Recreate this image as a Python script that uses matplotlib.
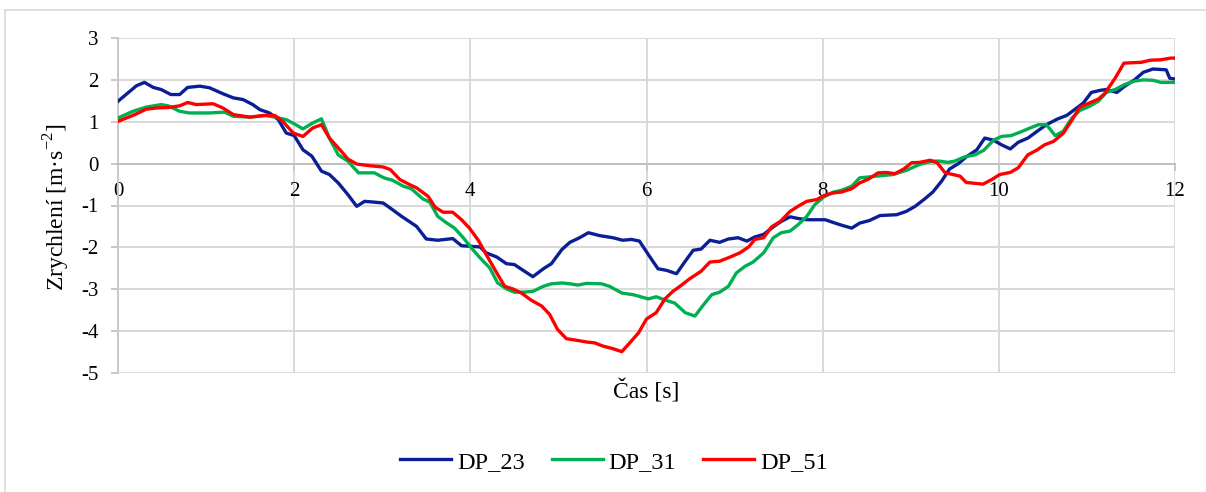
import matplotlib
matplotlib.use("Agg")
import matplotlib.pyplot as plt
from matplotlib.lines import Line2D

plt.rcParams['font.family'] = ['Liberation Serif', 'DejaVu Serif']
plt.rcParams['mathtext.fontset'] = 'custom'
plt.rcParams['mathtext.rm'] = 'Liberation Serif'
plt.rcParams['axes.unicode_minus'] = False

# data
t_23 = [0.00, 0.21, 0.30, 0.40, 0.49, 0.60, 0.70, 0.79, 0.93, 1.04, 1.19, 1.31, 1.42, 1.53, 1.61, 1.72,
        1.82, 1.91, 2.00, 2.10, 2.20, 2.31, 2.40, 2.50, 2.61, 2.71, 2.80, 2.91, 3.01, 3.09, 3.22, 3.39,
        3.50, 3.63, 3.80, 3.90, 4.11, 4.18, 4.30, 4.41, 4.50, 4.60, 4.71, 4.83, 4.92, 5.04, 5.13, 5.24,
        5.34, 5.47, 5.62, 5.73, 5.83, 5.92, 6.02, 6.13, 6.23, 6.34, 6.44, 6.53, 6.62, 6.72, 6.83, 6.93,
        7.04, 7.14, 7.23, 7.33, 7.44, 7.53, 7.63, 7.72, 7.82, 8.03, 8.14, 8.23, 8.33, 8.42, 8.53, 8.65,
        8.84, 8.95, 9.05, 9.16, 9.25, 9.35, 9.44, 9.54, 9.63, 9.75, 9.84, 9.94, 10.03, 10.13, 10.22, 10.33,
        10.46, 10.54, 10.67, 10.77, 10.86, 10.96, 11.05, 11.15, 11.22, 11.34, 11.43, 11.54, 11.64, 11.75,
        11.90, 11.94, 12.00]
a_23 = [1.49, 1.86, 1.94, 1.82, 1.77, 1.65, 1.65, 1.82, 1.85, 1.81, 1.67, 1.57, 1.53, 1.41, 1.29, 1.21,
        1.05, 0.73, 0.67, 0.33, 0.18, -0.18, -0.26, -0.46, -0.74, -1.02, -0.90, -0.92, -0.94, -1.06, -1.26, -1.50,
        -1.80, -1.83, -1.79, -1.96, -1.99, -2.13, -2.23, -2.39, -2.41, -2.55, -2.70, -2.51, -2.39, -2.05, -1.88, -1.77,
        -1.65, -1.72, -1.77, -1.83, -1.81, -1.85, -2.17, -2.51, -2.55, -2.63, -2.33, -2.07, -2.04, -1.83, -1.88, -1.80,
        -1.77, -1.85, -1.75, -1.69, -1.51, -1.38, -1.27, -1.31, -1.34, -1.34, -1.42, -1.48, -1.54, -1.42, -1.36, -1.24,
        -1.22, -1.14, -1.02, -0.84, -0.68, -0.42, -0.13, 0.00, 0.16, 0.33, 0.61, 0.56, 0.45, 0.35, 0.51, 0.61,
        0.81, 0.93, 1.07, 1.15, 1.29, 1.45, 1.70, 1.75, 1.77, 1.70, 1.85, 2.00, 2.18, 2.26,
        2.24, 2.04, 2.02]

t_31 = [0.00, 0.17, 0.32, 0.49, 0.57, 0.70, 0.81, 1.04, 1.21, 1.31, 1.50, 1.68, 1.78, 1.91, 2.00, 2.10,
        2.21, 2.31, 2.40, 2.50, 2.61, 2.73, 2.91, 3.02, 3.12, 3.24, 3.33, 3.46, 3.54, 3.63, 3.72, 3.82,
        3.92, 4.01, 4.11, 4.22, 4.31, 4.41, 4.50, 4.61, 4.71, 4.83, 4.92, 5.04, 5.13, 5.22, 5.32, 5.49,
        5.58, 5.72, 5.85, 6.02, 6.11, 6.23, 6.32, 6.44, 6.55, 6.64, 6.74, 6.83, 6.93, 7.02, 7.12, 7.21,
        7.33, 7.44, 7.53, 7.63, 7.72, 7.82, 7.91, 8.01, 8.12, 8.21, 8.33, 8.42, 8.61, 8.80, 8.95, 9.10,
        9.24, 9.33, 9.42, 9.50, 9.61, 9.73, 9.83, 9.94, 10.03, 10.14, 10.24, 10.33, 10.45, 10.54, 10.64, 10.73,
        10.83, 10.92, 11.03, 11.13, 11.22, 11.32, 11.43, 11.54, 11.64, 11.75, 11.84, 12.00]
a_31 = [1.09, 1.25, 1.35, 1.41, 1.38, 1.25, 1.21, 1.21, 1.23, 1.13, 1.11, 1.15, 1.11, 1.05, 0.95, 0.83,
        0.97, 1.07, 0.61, 0.21, 0.06, -0.22, -0.22, -0.34, -0.40, -0.54, -0.60, -0.84, -0.92, -1.26, -1.40, -1.54,
        -1.77, -2.01, -2.25, -2.49, -2.85, -2.99, -3.07, -3.07, -3.05, -2.93, -2.87, -2.85, -2.87, -2.90, -2.86, -2.87,
        -2.93, -3.09, -3.13, -3.23, -3.18, -3.27, -3.33, -3.56, -3.64, -3.39, -3.13, -3.07, -2.93, -2.61, -2.45, -2.35,
        -2.13, -1.77, -1.65, -1.61, -1.46, -1.26, -0.98, -0.80, -0.68, -0.64, -0.54, -0.34, -0.30, -0.26, -0.16, -0.02,
        0.06, 0.06, 0.03, 0.06, 0.16, 0.21, 0.32, 0.56, 0.65, 0.67, 0.75, 0.83, 0.93, 0.93, 0.67, 0.77,
        1.09, 1.27, 1.37, 1.49, 1.70, 1.77, 1.89, 1.97, 2.00, 1.99, 1.94, 1.94]

t_51 = [0.00, 0.19, 0.32, 0.44, 0.57, 0.70, 0.79, 0.89, 1.08, 1.19, 1.31, 1.50, 1.65, 1.78, 1.87, 1.99,
        2.10, 2.21, 2.31, 2.40, 2.52, 2.61, 2.71, 2.86, 3.01, 3.09, 3.20, 3.31, 3.39, 3.52, 3.60, 3.69,
        3.80, 3.90, 3.99, 4.09, 4.18, 4.30, 4.39, 4.48, 4.58, 4.69, 4.81, 4.90, 4.99, 5.09, 5.21, 5.32,
        5.41, 5.51, 5.62, 5.72, 5.81, 5.91, 6.00, 6.11, 6.21, 6.30, 6.38, 6.49, 6.62, 6.72, 6.83, 6.95,
        7.06, 7.16, 7.23, 7.33, 7.42, 7.52, 7.63, 7.72, 7.82, 7.93, 8.02, 8.12, 8.21, 8.33, 8.42, 8.52,
        8.63, 8.72, 8.82, 8.92, 9.01, 9.10, 9.22, 9.30, 9.39, 9.48, 9.56, 9.63, 9.82, 9.92, 10.01, 10.13,
        10.22, 10.33, 10.43, 10.52, 10.62, 10.73, 10.83, 10.92, 11.03, 11.13, 11.20, 11.32, 11.42, 11.62,
        11.72, 11.84, 11.95, 12.00]
a_51 = [1.01, 1.17, 1.30, 1.33, 1.34, 1.38, 1.46, 1.41, 1.43, 1.33, 1.17, 1.11, 1.15, 1.15, 1.01, 0.73,
        0.65, 0.85, 0.93, 0.61, 0.33, 0.11, -0.01, -0.05, -0.08, -0.14, -0.38, -0.50, -0.58, -0.78, -1.04, -1.16,
        -1.16, -1.34, -1.54, -1.83, -2.17, -2.61, -2.93, -2.99, -3.09, -3.26, -3.40, -3.60, -3.96, -4.18, -4.22, -4.26,
        -4.28, -4.36, -4.42, -4.49, -4.28, -4.04, -3.71, -3.56, -3.23, -3.05, -2.93, -2.75, -2.57, -2.35, -2.33, -2.23,
        -2.13, -1.99, -1.81, -1.77, -1.51, -1.38, -1.14, -1.02, -0.90, -0.86, -0.76, -0.70, -0.68, -0.60, -0.46, -0.37,
        -0.22, -0.21, -0.24, -0.13, 0.02, 0.03, 0.08, 0.02, -0.22, -0.26, -0.30, -0.45, -0.49, -0.38, -0.26, -0.21,
        -0.10, 0.21, 0.32, 0.45, 0.53, 0.72, 1.04, 1.35, 1.45, 1.54, 1.67, 2.04, 2.40, 2.42,
        2.47, 2.48, 2.52, 2.52]

x_ticks = [0, 2, 4, 6, 8, 10, 12]
y_ticks = [-5, -4, -3, -2, -1, 0, 1, 2, 3]

fig = plt.figure(figsize=(12.06, 4.92), dpi=100)
ax = fig.add_axes([118 / 1206, 1 - 373 / 492, 1057 / 1206, 335 / 492])

grid_c = '#d9d9d9'
ax.set_xlim(0, 12)
ax.set_ylim(-5, 3)
ax.set_xticks(x_ticks)
ax.set_yticks(y_ticks)
for y in y_ticks:
    ax.axhline(y, color=grid_c, lw=1.4, zorder=0)
for x in x_ticks[1:]:
    ax.axvline(x, color=grid_c, lw=1.4, zorder=0)

ax.plot(t_23, a_23, color='#0a1f96', lw=2.4, label='DP_23', zorder=3)
ax.plot(t_31, a_31, color='#00b050', lw=2.4, label='DP_31', zorder=3)
ax.plot(t_51, a_51, color='#ff0000', lw=2.4, label='DP_51', zorder=4)

for s in ['top', 'right']:
    ax.spines[s].set_visible(False)
ax.spines['left'].set_color('#c8c8c8')
ax.spines['left'].set_linewidth(1.4)
ax.spines['bottom'].set_position(('data', 0))
ax.spines['bottom'].set_color('#bfbfbf')
ax.spines['bottom'].set_linewidth(1.4)
ax.tick_params(axis='both', colors='#c8c8c8', labelcolor='black', labelsize=15, width=1.4, length=5)
ax.tick_params(axis='y', pad=9)
ax.tick_params(axis='x', pad=8)

fig.text(57 / 1206, 1 - 207 / 492, 'Zrychlení [m·s$^{\\mathrm{-2}}$]', rotation=90,
         ha='center', va='center', fontsize=17)
fig.text(646 / 1206, 1 - 392 / 492, 'Čas [s]', ha='center', va='center', fontsize=17)

fig.legend(loc='center', bbox_to_anchor=(614 / 1206, 1 - 462 / 492), ncol=3, frameon=False,
           fontsize=17.5, handlelength=2.1, handletextpad=0.25, columnspacing=1.1)

# chart area border
fig.add_artist(Line2D([5 / 1206, 5 / 1206], [0, 1 - 10 / 492], color='#d9d9d9', lw=1.2))
fig.add_artist(Line2D([5 / 1206, 1], [1 - 10 / 492, 1 - 10 / 492], color='#d9d9d9', lw=1.2))

fig.savefig('out.png', dpi=100)
